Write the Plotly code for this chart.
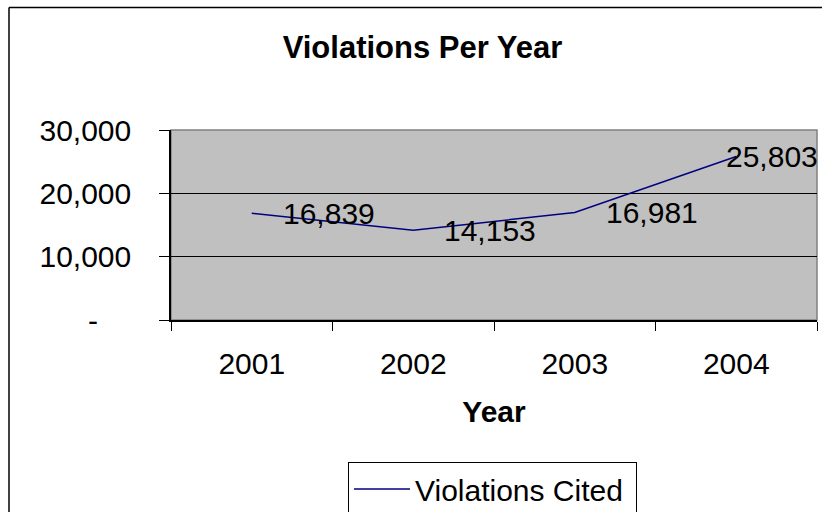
import plotly.graph_objects as go

# ---- data ----
years = ["2001", "2002", "2003", "2004"]
violations = [16839, 14153, 16981, 25803]
y_tick_vals = [0, 10000, 20000, 30000]
y_tick_text = ["-\u00a0\u00a0\u00a0\u00a0", "10,000", "20,000", "30,000"]
series_name = "Violations Cited"
label_shift = [29, 29, 29, -12]

W, H = 822, 512
ML, MR, MT, MB = 171, 5, 130, 192
FONT = "Liberation Sans, Arial, sans-serif"

fig = go.Figure()
fig.add_trace(go.Scatter(
    x=years, y=violations, mode="lines", name=series_name,
    line=dict(color="#000080", width=1.5),
    showlegend=True,
))

# data labels (category index positions on the category axis)
for i, (yv, sh) in enumerate(zip(violations, label_shift)):
    fig.add_annotation(
        x=i, y=yv, xref="x", yref="y", text=f"{yv:,}",
        showarrow=False, xanchor="left", yanchor="middle", xshift=sh,
        font=dict(family=FONT, size=30, color="black"),
    )

pw = W - ML - MR
ph = H - MT - MB

def px_x(p):
    return (p - ML) / pw

def px_y(p):
    return (H - MB - p) / ph

# outer chart frame (top and left edges; right/bottom lie outside the canvas)
fig.add_shape(type="line", xref="paper", yref="paper",
              x0=px_x(9), x1=px_x(W), y0=px_y(7.5), y1=px_y(7.5),
              line=dict(color="black", width=1.5), layer="below")
fig.add_shape(type="line", xref="paper", yref="paper",
              x0=px_x(9), x1=px_x(9), y0=px_y(7.5), y1=px_y(H),
              line=dict(color="black", width=1.5), layer="below")
# plot area border (gray)
fig.add_shape(type="rect", xref="paper", yref="paper",
              x0=0, x1=1, y0=0, y1=1,
              line=dict(color="#808080", width=1.5), fillcolor="rgba(0,0,0,0)",
              layer="below")

fig.update_layout(
    width=W, height=H,
    margin=dict(l=ML, r=MR, t=MT, b=MB, autoexpand=False),
    paper_bgcolor="white",
    plot_bgcolor="#C0C0C0",
    font=dict(family=FONT, size=30, color="black"),
    title=dict(text="<b>Violations Per Year</b>", x=422.5 / W, xanchor="center",
               xref="container",
               y=1 - 47 / H, yanchor="middle", yref="container",
               font=dict(family=FONT, size=31, color="black")),
    xaxis=dict(
        type="category", categoryorder="array", categoryarray=years,
        range=[-0.5, 3.5], showgrid=False, zeroline=False,
        showline=True, linecolor="black", linewidth=1.5,
        ticks="outside", tickson="boundaries", ticklen=9, tickcolor="black", tickwidth=1,
        ticklabelstandoff=16,
        tickfont=dict(family=FONT, size=30, color="black"),
        title=dict(text="<b>Year</b>", standoff=22,
                   font=dict(family=FONT, size=30, color="black")),
    ),
    yaxis=dict(
        range=[0, 30000], tickvals=y_tick_vals, ticktext=y_tick_text,
        showgrid=True, gridcolor="black", gridwidth=1, zeroline=False,
        showline=True, linecolor="black", linewidth=1.5,
        ticks="outside", ticklen=10, tickcolor="black", tickwidth=1,
        ticklabelstandoff=22,
        tickfont=dict(family=FONT, size=30, color="black"),
    ),
    legend=dict(
        x=px_x(348), y=px_y(462), xanchor="left", yanchor="top",
        bordercolor="black", borderwidth=1, bgcolor="white",
        font=dict(family=FONT, size=30, color="black"),
        orientation="h", itemwidth=56, entrywidth=216,
    ),
    showlegend=True,
)

fig.write_html("out.html")
